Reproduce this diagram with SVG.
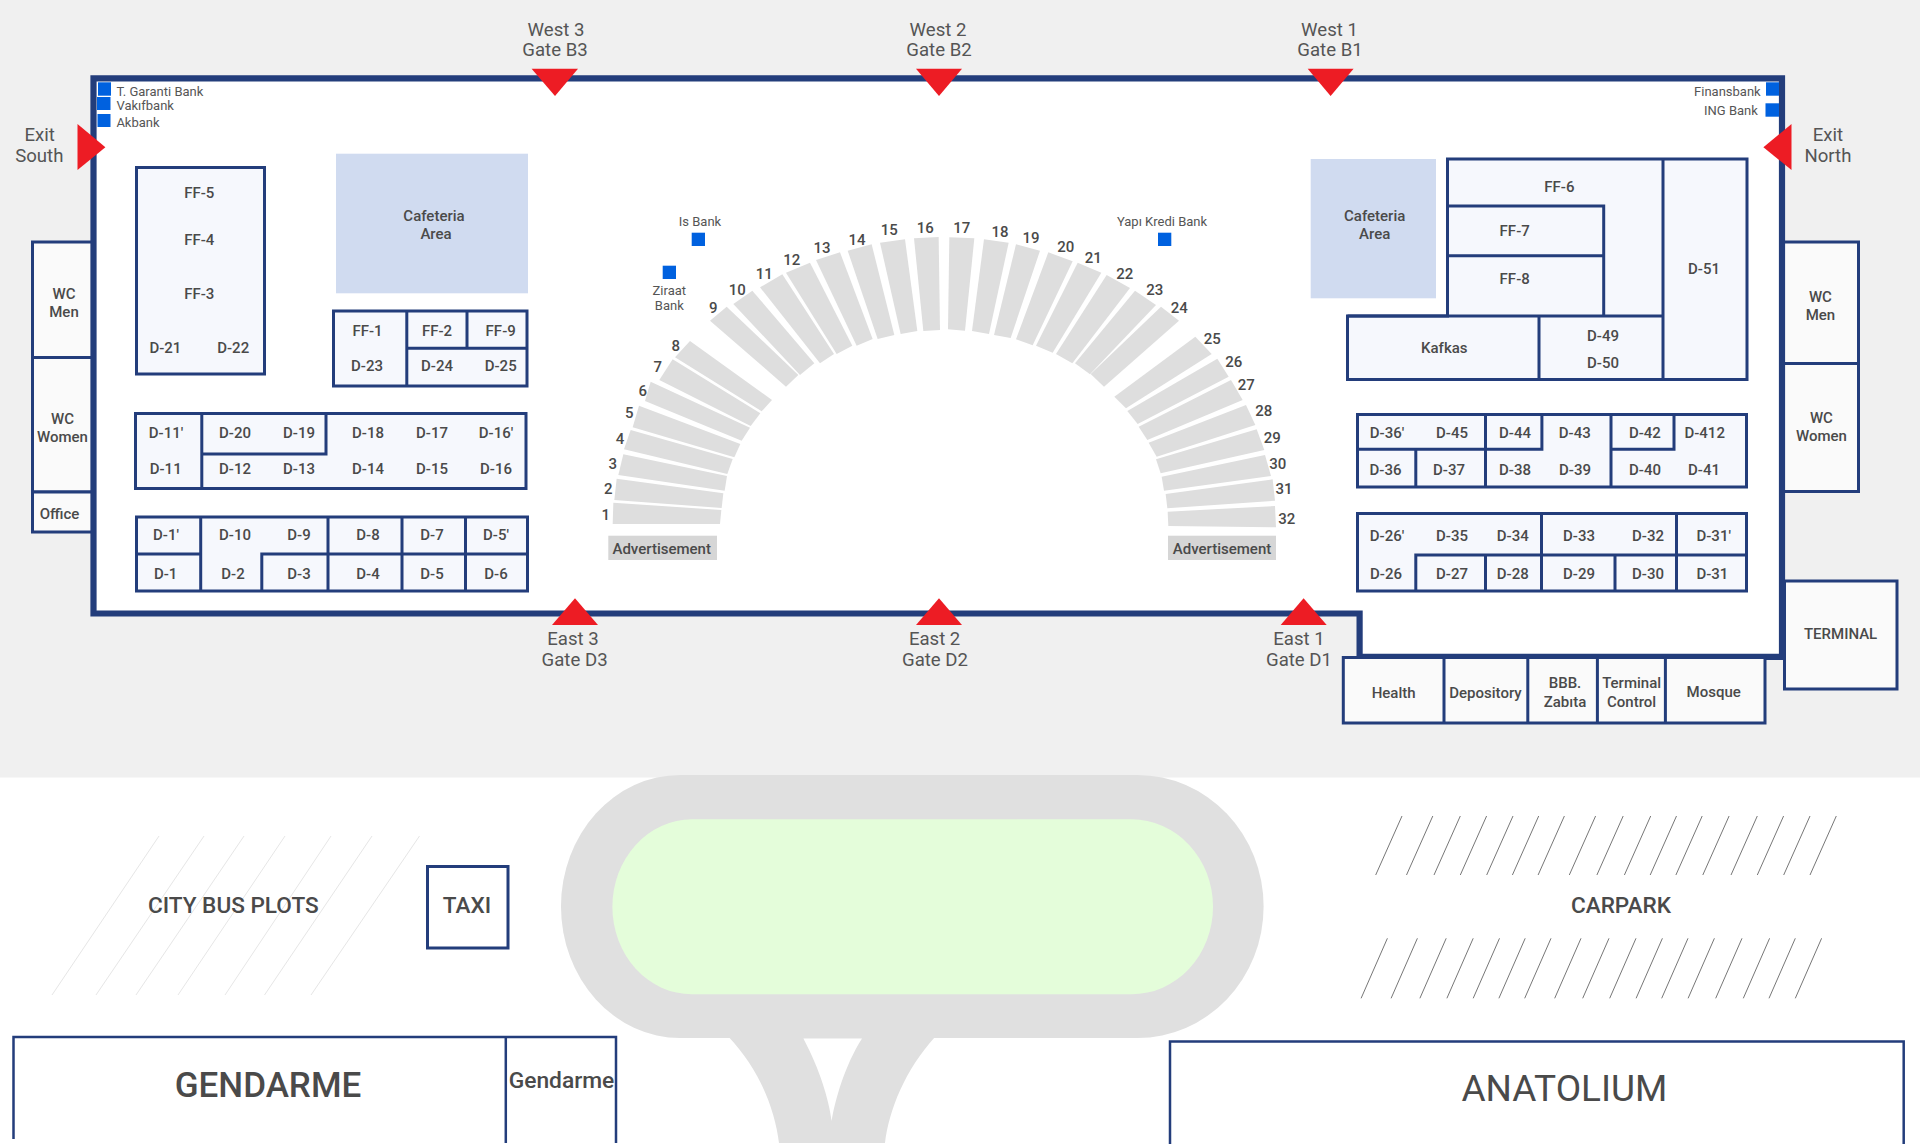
<svg xmlns="http://www.w3.org/2000/svg" width="1920" height="1144" viewBox="0 0 1920 1144">
<style>
text{font-family:Roboto,"Liberation Sans",sans-serif;fill:#4a4a4a;text-anchor:middle}
.r{font-size:15px;font-weight:500}
.g{font-size:18.6px;font-weight:400;fill:#555}
.b{font-size:13px;fill:#555}
.bl{text-anchor:start}
.be{text-anchor:end}
.n{font-size:15px;font-weight:500}
.L{font-size:22.6px;font-weight:500}
.sq{fill:#0061df}
.room{fill:#f6f8fd;stroke:#233d7b;stroke-width:3}
.svc{fill:#fafafa;stroke:#233d7b;stroke-width:3}
.ln{fill:none;stroke:#233d7b;stroke-width:3}
.caf{fill:#d0dbf0}
.ad{fill:#d6d6d6}
.seat polygon{fill:#dedede}
.tri{fill:#ed1c24}
.cp{stroke:#777;stroke-width:1;fill:none}
.bus{stroke:#e6e6e6;stroke-width:1;fill:none}
</style>
<rect width="1920" height="777.7" fill="#f0f0f0"/>
<rect y="777.7" width="1920" height="366.3" fill="#fff"/>

<g id="road">
<path d="M680 775H1137.6A126 131.5 0 0 1 1137.6 1038H680A119 131.5 0 0 1 680 775Z" fill="#e0e0e0"/>
<path d="M728.7 1037C760 1070 775 1110 779 1143H885C889 1110 905 1070 935 1037Z" fill="#e0e0e0"/>
<path d="M803.4 1038.5C820 1070 829 1100 831.6 1121C835 1100 845 1065 862 1038.5Z" fill="#fff"/>
<path d="M692 819.3H1131.5A81.5 87.5 0 0 1 1131.5 994.3H692A79.6 87.5 0 0 1 692 819.3Z" fill="#e4fdda"/>
</g>

<g id="wc-left">
<rect class="svc" x="32.5" y="242" width="60" height="115.5"/>
<rect class="svc" x="32.5" y="357.5" width="60" height="134.5"/>
<rect class="svc" x="32.5" y="492" width="60" height="40"/>
<text class="r" x="64" y="298.7">WC</text><text class="r" x="64" y="316.7">Men</text>
<text class="r" x="62.5" y="424">WC</text><text class="r" x="62.5" y="442">Women</text>
<text class="r" x="59.6" y="519.3">Office</text>
</g>
<g id="wc-right">
<rect class="svc" x="1782" y="242" width="76.5" height="121.5"/>
<rect class="svc" x="1782" y="363.5" width="76.5" height="128"/>
<text class="r" x="1820.4" y="301.7">WC</text><text class="r" x="1820.4" y="319.7">Men</text>
<text class="r" x="1821.4" y="423">WC</text><text class="r" x="1821.4" y="441.3">Women</text>
</g>
<g id="terminal">
<rect class="svc" x="1784.5" y="581" width="112.5" height="108"/>
<text class="r" x="1840.6" y="638.7">TERMINAL</text>
</g>

<g id="terminal-wall">
<path d="M93.5 78.3H1782V656.8H1359.6V613.5H93.5Z" fill="#fff" stroke="#233d7b" stroke-width="6.2"/>
</g>

<g id="services">
<rect class="svc" x="1343.3" y="657.5" width="421.7" height="65.5"/>
<path class="ln" d="M1444 657.5V723M1527.8 657.5V723M1597.4 657.5V723M1665.4 657.5V723"/>
<text class="r" x="1393.6" y="697.7">Health</text>
<text class="r" x="1485.5" y="697.7">Depository</text>
<text class="r" x="1565" y="688.3">BBB.</text><text class="r" x="1565" y="706.7">Zabıta</text>
<text class="r" x="1631.6" y="688.3">Terminal</text><text class="r" x="1631.6" y="706.7">Control</text>
<text class="r" x="1713.7" y="697.3">Mosque</text>
</g>

<g id="banks">
<rect class="sq" x="98" y="82.3" width="13" height="13.4"/><rect class="sq" x="97" y="97" width="13.5" height="13"/><rect class="sq" x="97.5" y="114" width="13" height="13"/>
<text class="b bl" x="116.4" y="95.7">T. Garanti Bank</text>
<text class="b bl" x="116.4" y="110">Vakıfbank</text>
<text class="b bl" x="116.4" y="127">Akbank</text>
<rect class="sq" x="1766" y="82.3" width="13" height="13.4"/><rect class="sq" x="1765.5" y="103.3" width="13.5" height="13.4"/>
<text class="b be" x="1760.7" y="95.7">Finansbank</text>
<text class="b be" x="1757.9" y="114.7">ING Bank</text>
<rect class="sq" x="691.7" y="232.7" width="13.3" height="13.3"/>
<text class="b" x="700" y="226">Is Bank</text>
<rect class="sq" x="662.7" y="265.7" width="13.3" height="13.3"/>
<text class="b" x="669.3" y="294.7">Ziraat</text><text class="b" x="669.3" y="310">Bank</text>
<rect class="sq" x="1158" y="232.7" width="13.3" height="13.3"/>
<text class="b" x="1162" y="226">Yapı Kredi Bank</text>
</g>

<g id="block-ff5">
<rect class="room" x="136.5" y="167.5" width="128" height="206.5"/>
<text class="r" x="199.3" y="198.3">FF-5</text><text class="r" x="199.3" y="245">FF-4</text><text class="r" x="199.3" y="299">FF-3</text>
<text class="r" x="165.4" y="353.3">D-21</text><text class="r" x="233.2" y="353.3">D-22</text>
</g>
<g id="cafeteria-left">
<rect class="caf" x="336" y="153.7" width="192" height="139.6"/>
<text class="r" x="434" y="221">Cafeteria</text><text class="r" x="436" y="239">Area</text>
</g>
<g id="block-ff1">
<rect class="room" x="333.5" y="311" width="193.5" height="75"/>
<path class="ln" d="M406.8 311V386M467 311V348.3M406.8 348.3H527"/>
<text class="r" x="367.5" y="335.7">FF-1</text><text class="r" x="437" y="335.7">FF-2</text><text class="r" x="500.7" y="335.7">FF-9</text>
<text class="r" x="367" y="370.7">D-23</text><text class="r" x="437" y="370.7">D-24</text><text class="r" x="500.7" y="370.7">D-25</text>
</g>
<g id="block-d11">
<rect class="room" x="135.5" y="413.5" width="390.5" height="75"/>
<path class="ln" d="M201.8 413.5V488.5M201.8 454H326V413.5"/>
<text class="r" x="166" y="437.7">D-11′</text><text class="r" x="235" y="437.7">D-20</text><text class="r" x="299" y="437.7">D-19</text><text class="r" x="368" y="437.7">D-18</text><text class="r" x="432" y="437.7">D-17</text><text class="r" x="496" y="437.7">D-16′</text>
<text class="r" x="165.7" y="474.3">D-11</text><text class="r" x="235" y="474.3">D-12</text><text class="r" x="299" y="474.3">D-13</text><text class="r" x="368" y="474.3">D-14</text><text class="r" x="432" y="474.3">D-15</text><text class="r" x="496" y="474.3">D-16</text>
</g>
<g id="block-d1">
<rect class="room" x="136.5" y="517" width="391" height="74"/>
<path class="ln" d="M200.7 517V591M328 517V591M402 517V591M465.5 517V591M136.5 554H200.7M261.8 591V554H527.5"/>
<text class="r" x="166" y="540.3">D-1′</text><text class="r" x="235" y="540.3">D-10</text><text class="r" x="299" y="540.3">D-9</text><text class="r" x="368" y="540.3">D-8</text><text class="r" x="432" y="540.3">D-7</text><text class="r" x="496" y="540.3">D-5′</text>
<text class="r" x="165.7" y="579">D-1</text><text class="r" x="233" y="579">D-2</text><text class="r" x="299" y="579">D-3</text><text class="r" x="368" y="579">D-4</text><text class="r" x="432" y="579">D-5</text><text class="r" x="496" y="579">D-6</text>
</g>

<g id="cafeteria-right">
<rect class="caf" x="1310.7" y="159" width="125.3" height="139.3"/>
<text class="r" x="1374.7" y="221">Cafeteria</text><text class="r" x="1374.7" y="239">Area</text>
</g>
<g id="block-ff6">
<path class="room" d="M1447.5 159H1747V379.5H1347.5V316H1447.5Z"/>
<path class="ln" d="M1663 159V379.5M1347.5 316H1663M1539 316V379.5M1447.5 206H1603.7V316M1447.5 255.7H1603.7"/>
<text class="r" x="1559.4" y="192">FF-6</text><text class="r" x="1514.7" y="235.7">FF-7</text><text class="r" x="1514.7" y="283.7">FF-8</text>
<text class="r" x="1704" y="273.7">D-51</text><text class="r" x="1444.3" y="353">Kafkas</text>
<text class="r" x="1603" y="341">D-49</text><text class="r" x="1603" y="367.7">D-50</text>
</g>
<g id="block-d36">
<rect class="room" x="1357.5" y="414.5" width="389" height="72.5"/>
<path class="ln" d="M1485.5 414.5V487M1541.9 414.5V449.3H1357.5M1611 414.5V487M1674 414.5V449.3H1611M1415.8 449.3V487"/>
<text class="r" x="1387" y="438.3">D-36′</text><text class="r" x="1452" y="438.3">D-45</text><text class="r" x="1515" y="438.3">D-44</text><text class="r" x="1574.8" y="438.3">D-43</text><text class="r" x="1644.9" y="438.3">D-42</text><text class="r" x="1704.7" y="438.3">D-412</text>
<text class="r" x="1385.5" y="474.7">D-36</text><text class="r" x="1449" y="474.7">D-37</text><text class="r" x="1515" y="474.7">D-38</text><text class="r" x="1575" y="474.7">D-39</text><text class="r" x="1645" y="474.7">D-40</text><text class="r" x="1704" y="474.7">D-41</text>
</g>
<g id="block-d26">
<rect class="room" x="1357.5" y="513.5" width="389" height="77.5"/>
<path class="ln" d="M1415.8 591V555H1746.5M1485.5 555V591M1541.5 513.5V591M1615 555V591M1676.5 513.5V591"/>
<text class="r" x="1387" y="540.7">D-26′</text><text class="r" x="1452" y="540.7">D-35</text><text class="r" x="1512.8" y="540.7">D-34</text><text class="r" x="1579" y="540.7">D-33</text><text class="r" x="1648" y="540.7">D-32</text><text class="r" x="1713.7" y="540.7">D-31′</text>
<text class="r" x="1386" y="579.3">D-26</text><text class="r" x="1452" y="579.3">D-27</text><text class="r" x="1512.8" y="579.3">D-28</text><text class="r" x="1579" y="579.3">D-29</text><text class="r" x="1648" y="579.3">D-30</text><text class="r" x="1712.4" y="579.3">D-31</text>
</g>

<g id="seats-left" class="seat" transform="translate(580 200) scale(.33333)">
<polygon points="100,908 424,930 420,972 98,972"/>
<polygon points="110,836 430,880 425,924 103,900"/>
<polygon points="130,763 441,828 434,872 115,825"/>
<polygon points="152,690 458,777 442,822 132,748"/>
<polygon points="177,617 481,732 463,772 158,682"/>
<polygon points="212,545 510,683 485,722 195,603"/>
<polygon points="278,478 541,640 512,678 238,540"/>
<polygon points="330,423 576,600 545,634 285,472"/>
<polygon points="440,320 655,525 618,560 390,362"/>
<polygon points="517,272 703,490 660,525 460,312"/>
<polygon points="607,223 762,462 720,490 540,262"/>
<polygon points="690,188 817,437 770,462 618,218"/>
<polygon points="780,157 878,417 830,437 708,180"/>
<polygon points="875,133 943,405 893,417 803,152"/>
<polygon points="975,118 1012,393 962,402 900,128"/>
<polygon points="1076,111 1080,390 1030,393 1002,115"/>
</g>
<g id="seats-right" class="seat" transform="translate(940 200) scale(.33333)">
<polygon points="28,112 103,115 75,392 24,388"/>
<polygon points="132,118 206,128 147,402 96,393"/>
<polygon points="228,133 300,152 212,414 162,405"/>
<polygon points="325,157 398,184 278,436 228,418"/>
<polygon points="413,188 484,218 338,458 288,437"/>
<polygon points="500,225 570,264 397,490 348,462"/>
<polygon points="585,272 648,315 450,523 405,490"/>
<polygon points="663,320 717,362 492,560 452,522"/>
<polygon points="766,410 815,462 558,625 523,590"/>
<polygon points="832,476 866,530 593,672 562,633"/>
<polygon points="873,540 908,600 622,720 596,680"/>
<polygon points="918,615 946,675 650,770 626,728"/>
<polygon points="950,688 973,750 662,820 648,778"/>
<polygon points="975,765 993,828 672,872 665,830"/>
<polygon points="998,838 1005,902 682,925 677,882"/>
<polygon points="1005,918 1008,982 685,978 683,935"/>
</g>
<g id="seat-numbers">
<text class="n" x="605.7" y="519.6">1</text><text class="n" x="608.3" y="494.3">2</text><text class="n" x="612.7" y="469">3</text><text class="n" x="620" y="443.6">4</text><text class="n" x="629.3" y="418.3">5</text><text class="n" x="642.7" y="395.6">6</text><text class="n" x="657.7" y="372.3">7</text><text class="n" x="675.7" y="351.3">8</text><text class="n" x="713.3" y="313.3">9</text><text class="n" x="737.3" y="295">10</text><text class="n" x="764.3" y="279.3">11</text><text class="n" x="791.7" y="265.3">12</text><text class="n" x="822" y="253.3">13</text><text class="n" x="857" y="244.6">14</text><text class="n" x="889.3" y="235.3">15</text><text class="n" x="925.3" y="232.6">16</text><text class="n" x="961.7" y="232.6">17</text><text class="n" x="1000" y="237">18</text><text class="n" x="1031" y="242.6">19</text><text class="n" x="1065.7" y="252.3">20</text><text class="n" x="1093.3" y="262.6">21</text><text class="n" x="1124.7" y="279">22</text><text class="n" x="1154.7" y="294.6">23</text><text class="n" x="1179.3" y="312.6">24</text><text class="n" x="1212.3" y="344">25</text><text class="n" x="1233.7" y="366.6">26</text><text class="n" x="1246.3" y="390.3">27</text><text class="n" x="1263.7" y="415.6">28</text><text class="n" x="1272.3" y="443.3">29</text><text class="n" x="1277.7" y="469">30</text><text class="n" x="1284" y="494.3">31</text><text class="n" x="1286.7" y="523.6">32</text>
</g>
<g id="advert-left"><rect class="ad" x="608.3" y="535.7" width="108.7" height="24.3"/><text class="r" x="661.7" y="553.8">Advertisement</text></g>
<g id="advert-right"><rect class="ad" x="1168" y="535.7" width="108" height="24.3"/><text class="r" x="1222" y="553.8">Advertisement</text></g>

<g id="gates">
<polygon class="tri" points="531.6,68.7 578,68.7 555,96"/>
<polygon class="tri" points="916,68.7 962,68.7 939,96"/>
<polygon class="tri" points="1307.7,68.7 1353.6,68.7 1330.6,96"/>
<polygon class="tri" points="552,625 598,625 575,598.3"/>
<polygon class="tri" points="916,625 962,625 939,598.3"/>
<polygon class="tri" points="1280.7,625 1326.7,625 1303.6,598.3"/>
<polygon class="tri" points="77.5,124 105.4,147.3 77.5,170"/>
<polygon class="tri" points="1791.5,124 1763.4,147.3 1791.5,170"/>
<text class="g" x="556" y="35.5">West 3</text><text class="g" x="555" y="55.8">Gate B3</text>
<text class="g" x="938" y="35.5">West 2</text><text class="g" x="939" y="55.8">Gate B2</text>
<text class="g" x="1329.5" y="35.5">West 1</text><text class="g" x="1330" y="55.8">Gate B1</text>
<text class="g" x="573" y="644.8">East 3</text><text class="g" x="574.6" y="665.5">Gate D3</text>
<text class="g" x="934.6" y="644.8">East 2</text><text class="g" x="935" y="665.5">Gate D2</text>
<text class="g" x="1299" y="644.8">East 1</text><text class="g" x="1299" y="665.5">Gate D1</text>
<text class="g" x="39.6" y="140.5">Exit</text><text class="g" x="39.3" y="162">South</text>
<text class="g" x="1827.9" y="140.5">Exit</text><text class="g" x="1827.9" y="162">North</text>
</g>

<g id="city-bus">
<path class="bus" d="M159 836L52 995M204 836L96 995M244 836L136 995M285 836L178 995M331 836L225 995M372 836L264.5 995M419.5 836L311 995"/>
<text class="L" x="233.3" y="913">CITY BUS PLOTS</text>
</g>
<g id="taxi">
<rect x="427.5" y="866.5" width="80.5" height="81.5" fill="#fff" stroke="#233d7b" stroke-width="3"/>
<text class="L" x="467" y="913.3">TAXI</text>
</g>
<g id="carpark">
<path class="cp" d="M1402 816l-26.3 59M1432.8 816l-26.3 59M1460.3 816l-26.3 59M1486.6 816l-26.3 59M1513 816l-26.3 59M1538.7 816l-26.3 59M1564.4 816l-26.3 59M1595.6 816l-26.3 59M1623.2 816l-26.3 59M1650.7 816l-26.3 59M1676.5 816l-26.3 59M1702.2 816l-26.3 59M1729.1 816l-26.3 59M1757.3 816l-26.3 59M1783.6 816l-26.3 59M1810 816l-26.3 59M1836.3 816l-26.3 59"/>
<path class="cp" d="M1387.4 938.3l-26.3 60M1417.4 938.3l-26.3 60M1446.2 938.3l-26.3 60M1473.2 938.3l-26.3 60M1499.5 938.3l-26.3 60M1525.2 938.3l-26.3 60M1551 938.3l-26.3 60M1581 938.3l-26.3 60M1609 938.3l-26.3 60M1636 938.3l-26.3 60M1662.4 938.3l-26.3 60M1688 938.3l-26.3 60M1714.4 938.3l-26.3 60M1742 938.3l-26.3 60M1769.6 938.3l-26.3 60M1795.3 938.3l-26.3 60M1821.6 938.3l-26.3 60"/>
<text class="L" x="1621" y="913">CARPARK</text>
</g>
<g id="gendarme">
<path d="M13.5 1139V1037H616V1143M505.8 1037V1143" fill="none" stroke="#233d7b" stroke-width="2.5"/>
<text x="268" y="1097.3" font-size="35" font-weight="500">GENDARME</text>
<text x="561.5" y="1087.7" font-size="22.8" font-weight="500">Gendarme</text>
</g>
<g id="anatolium">
<path d="M1170 1144V1041.5H1903.7V1144" fill="none" stroke="#233d7b" stroke-width="2.5"/>
<text x="1564.4" y="1100.7" font-size="37">ANATOLIUM</text>
</g>
</svg>
